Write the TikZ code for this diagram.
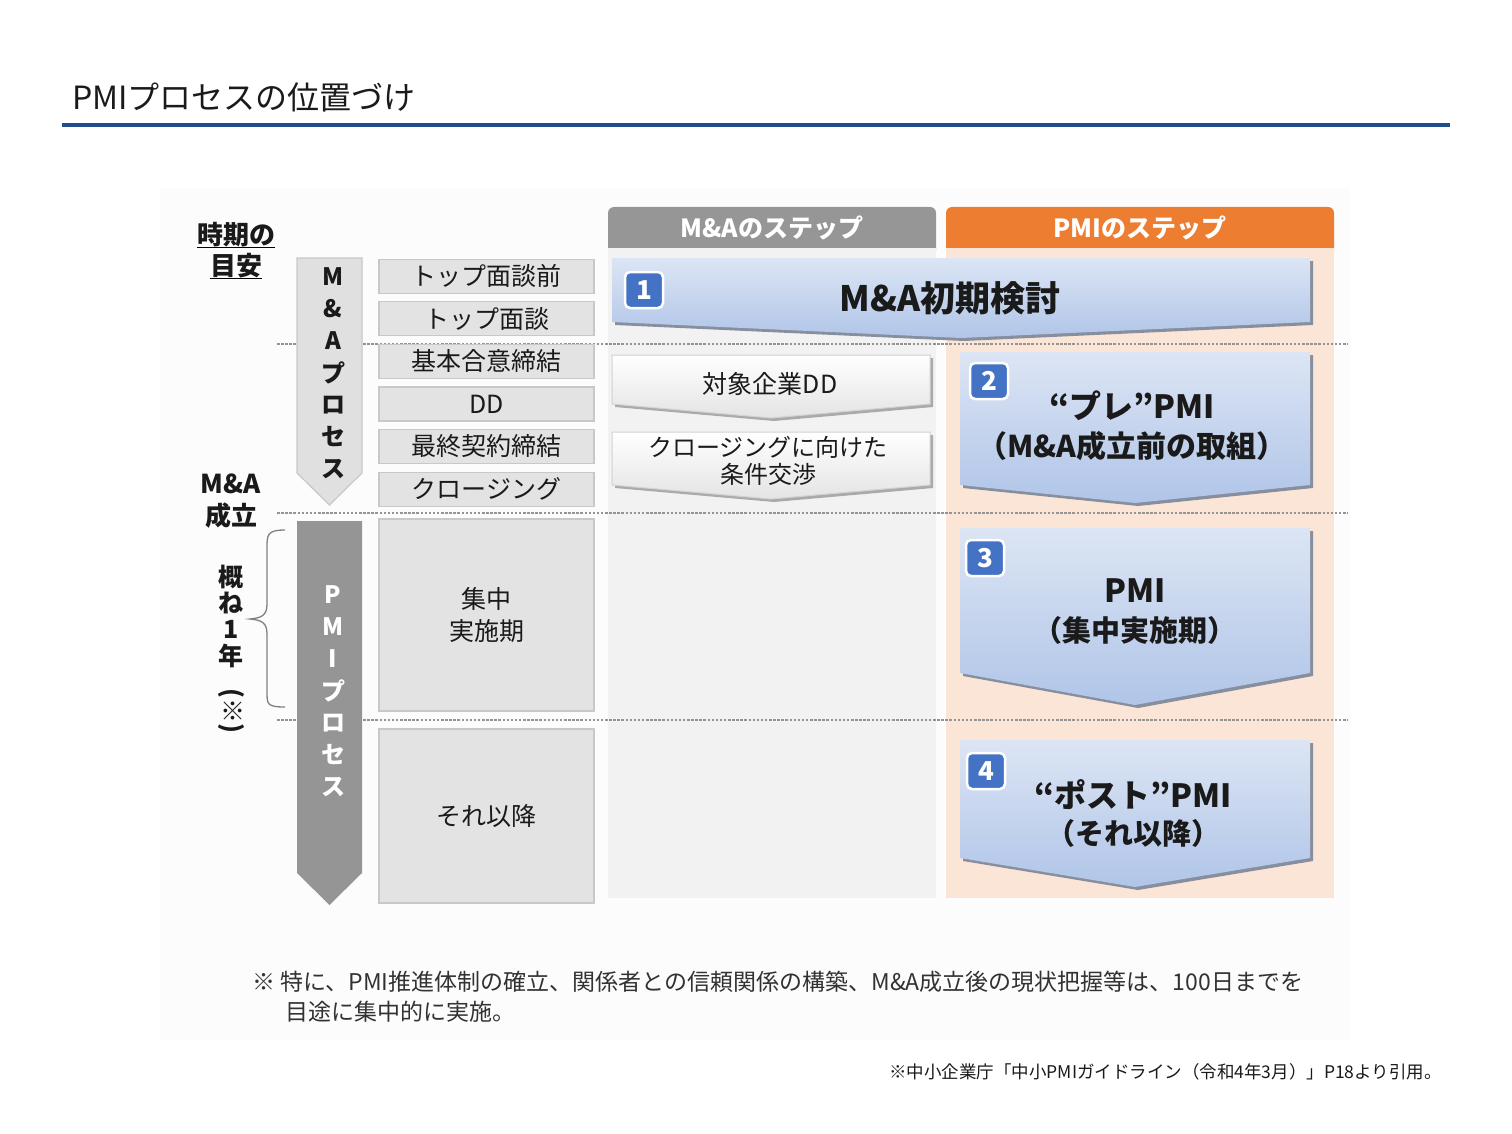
\documentclass[tikz,border=0pt]{standalone}
\usepackage{fontspec}
\setmainfont{Noto Sans CJK JP}
\usetikzlibrary{positioning,shadows}

\definecolor{titleblue}{RGB}{31,78,140}
\definecolor{panelbg}{RGB}{252,252,252}
\definecolor{hdrgray}{RGB}{150,150,150}
\definecolor{hdrorange}{RGB}{237,125,49}
\definecolor{colgray}{RGB}{242,242,242}
\definecolor{colpeach}{RGB}{251,229,214}
\definecolor{boxgray}{RGB}{227,227,227}
\definecolor{boxline}{RGB}{200,200,200}
\definecolor{arrowlight}{RGB}{224,224,224}
\definecolor{arrowdark}{RGB}{149,149,149}
\definecolor{dotgray}{RGB}{148,148,148}
\definecolor{badgeblue}{RGB}{68,114,196}
\definecolor{chevtop}{RGB}{220,229,244}
\definecolor{chevbot}{RGB}{176,197,232}
\definecolor{chevshade}{RGB}{135,142,158}
\definecolor{txtdark}{RGB}{26,26,26}
\definecolor{notegray}{RGB}{50,50,50}

\newcommand{\fsz}[2]{\fontsize{#1}{#2}\selectfont}
% style, x left, y top, x right, y side bottom, y tip
\newcommand{\chevpath}[6]{\path[#1] (#2,#3) -- (#4,#3) -- (#4,#5) -- ({(#2+#4)/2},#6) -- (#2,#5) -- cycle;}

\tikzset{
    gridline/.style={draw=dotgray, line width=2.5pt, dash pattern=on 2.5pt off 1.6pt},
    stepbox/.style={draw=boxline, fill=boxgray, line width=1.2pt, minimum width=215pt, font=\fsz{25}{32}, align=center},
    chevblue/.style={top color=chevtop, bottom color=chevbot,
        drop shadow={shadow xshift=3pt, shadow yshift=-3pt, fill=chevshade, opacity=1}},
    chevwhite/.style={top color=white, bottom color={rgb,255:red,228;green,228;blue,228},
        draw={rgb,255:red,210;green,210;blue,210}, line width=1pt,
        drop shadow={shadow xshift=3pt, shadow yshift=-3pt, fill={rgb,255:red,170;green,170;blue,170}, opacity=1}},
    badge/.style={fill=badgeblue, draw=white, line width=2.5pt, rounded corners=5pt,
        minimum width=38pt, minimum height=36pt, text=white, font=\bfseries\fsz{26}{26}},
    lbl/.style={font=\bfseries\fsz{26}{26}},
    hdrtxt/.style={text=white, font=\bfseries\fsz{25}{25}},
    bigtxt/.style={font=\bfseries\fsz{32}{32}},
    subtxt/.style={font=\bfseries\fsz{29}{29}}
}

\begin{document}
\begin{tikzpicture}[x=1pt, y=-1pt, every node/.style={inner sep=0pt, text=txtdark}]
    \fill[white] (0,0) rectangle (1512,1134);
    \useasboundingbox (0,0) rectangle (1512,1134);

    % title
    \node[anchor=west, font=\fsz{32}{32}] (title) at (72,97) {PMIプロセスの位置づけ};
    \draw[titleblue, line width=4pt] (62,125) -- (1450,125);

    \fill[panelbg] (160,188) rectangle (1350,1040);

    % columns
    \fill[hdrgray, rounded corners=6pt] (608,207) rectangle (936,256);
    \fill[colgray] (608,248) rectangle (936,898);
    \node[hdrtxt] (hdrma) at (772,228) {M\&Aのステップ};
    \fill[hdrorange, rounded corners=6pt] (946,207) rectangle (1334,256);
    \fill[colpeach] (946,248) rectangle (1334,898);
    \node[hdrtxt] (hdrpmi) at (1140,228) {PMIのステップ};

    \foreach \y in {344,513,720}
        \draw[gridline] (277,\y) -- (1348,\y);

    % left side
    \node[lbl] (when1) at (236,235) {時期の};
    \node[lbl] (when2) at (236,266) {目安};
    \draw[line width=1.5pt] (when1.south west) -- (when1.south east);
    \draw[line width=1.5pt] (when2.south west) -- (when2.south east);
    \node[lbl] (done1) at (231,484) {M\&A};
    \node[lbl] (done2) at (231,516) {成立};

    \draw[gray, line width=1.3pt] (285,530) .. controls (267,530) and (267,535) .. (267,548) -- (267,604)
        .. controls (267,615) and (262,618) .. (250,619) .. controls (262,620) and (267,623) .. (267,634)
        -- (267,692) .. controls (267,704) and (267,707) .. (285,707);
    \foreach \c [count=\i] in {概,ね,1,年}
        \node[lbl, font=\bfseries\fsz{25}{25}] (yr\i) at (231,550+26.5*\i) {\c};
    \node[lbl, font=\bfseries\fsz{25}{25}, rotate=-90] (yrnote) at (231,711) {(※)};

    % process arrows
    \chevpath{fill=arrowlight, draw=boxline, line width=1.2pt}{297}{258}{362}{473}{505}
    \foreach \c [count=\i] in {M,\&,A,プ,ロ,セ,ス}
        \node[font=\bfseries\fsz{24}{24}] (mav\i) at (333,245+32*\i) {\c};
    \chevpath{fill=arrowdark}{297}{521}{362}{873}{905}
    \foreach \c [count=\i] in {P,M,I,プ,ロ,セ,ス}
        \node[font=\bfseries\fsz{24}{24}, text=white] (pmv\i) at (333,563+32*\i) {\c};

    % timing boxes
    \foreach \t [count=\i] in {トップ面談前,トップ面談,基本合意締結,DD,最終契約締結,クロージング}
        \node[stepbox, minimum height=34pt] (ma\i) at (486.5,233.5+42.6*\i) {\t};
    \node[stepbox, minimum height=192pt] (focus) at (486.5,615) {集中\\実施期};
    \node[stepbox, minimum height=174pt] (later) at (486.5,816) {それ以降};

    % M&A steps
    \chevpath{chevblue}{612}{258}{1310}{322}{338}
    \node[badge] (num1) at (644,290) {1};
    \node[font=\bfseries\fsz{35}{35}] (step1) at (950,298) {M\&A初期検討};

    \chevpath{chevwhite}{612}{355}{930}{404}{418}
    \node[font=\fsz{25}{25}] (dd) at (770,384) {対象企業DD};
    \chevpath{chevwhite}{612}{432}{930}{485}{499}
    \node[font=\fsz{24}{27}, align=center] (nego) at (768,461) {クロージングに向けた\\条件交渉};

    % PMI steps
    \chevpath{chevblue}{960}{352}{1310}{485}{503}
    \node[badge] (num2) at (989,381) {2};
    \node[bigtxt] (step2a) at (1132,406) {“プレ”PMI};
    \node[subtxt, font=\bfseries\fsz{30}{30}] (step2b) at (1132,446) {（M\&A成立前の取組）};

    \chevpath{chevblue}{960}{528}{1310}{673}{705}
    \node[badge] (num3) at (985,558) {3};
    \node[bigtxt] (step3a) at (1135,591) {PMI};
    \node[subtxt] (step3b) at (1135,630) {（集中実施期）};

    \chevpath{chevblue}{960}{740}{1310}{858}{887}
    \node[badge] (num4) at (986,771) {4};
    \node[bigtxt] (step4a) at (1133,795) {“ポスト”PMI};
    \node[subtxt] (step4b) at (1133,833) {（それ以降）};

    % notes
    \node[anchor=west, font=\fsz{23}{23}, text=notegray] (note1) at (252,982) {※ 特に、PMI推進体制の確立、関係者との信頼関係の構築、M\&A成立後の現状把握等は、100日までを};
    \node[anchor=west, font=\fsz{23}{23}, text=notegray] (note2) at (285,1012) {目途に集中的に実施。};
    \node[anchor=east, font=\fsz{17.5}{17.5}] (src) at (1442,1072) {※中小企業庁「中小PMIガイドライン（令和4年3月）」P18より引用。};
\end{tikzpicture}
\end{document}
